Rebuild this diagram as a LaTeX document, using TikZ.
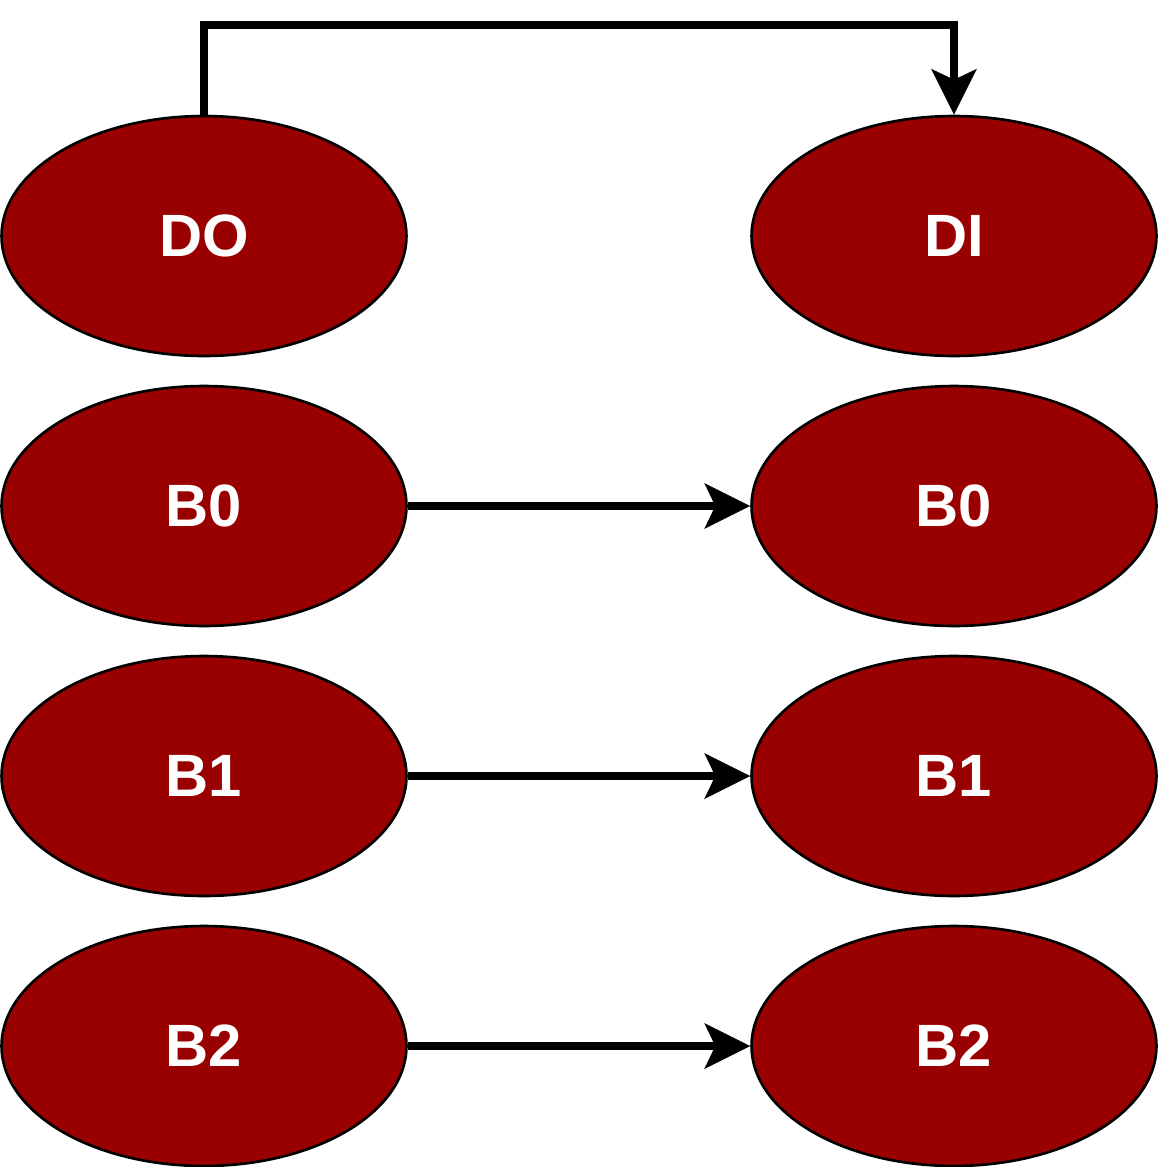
\documentclass[tikz,border=0pt]{standalone}
\usepackage{fontspec}
\setmainfont{Liberation Sans}
\usetikzlibrary{shapes.geometric, arrows.meta}
\definecolor{darkred}{HTML}{990000}
\begin{document}
\begin{tikzpicture}[x=0.02cm, y=-0.02cm,
  state/.style={ellipse, draw=black, line width=1.5pt, fill=darkred, text=white,
    font=\bfseries\fontsize{34}{40}\selectfont, minimum width=8.1cm, minimum height=4.8cm, inner sep=0pt},
  link/.style={line width=4.4pt, -{Stealth[length=0.92cm, width=0.92cm, inset=0.22cm, line width=0pt]}}]
		\useasboundingbox (0, 0) rectangle (1158, 1167);
		%%%%%%%%%%%%%
		\node[state] (do) at (204, 236) {DO};
		\node[state] (di) at (954, 236) {DI};
		\node[state] (lb0) at (204, 506) {B0};
		\node[state] (rb0) at (954, 506) {B0};
		\node[state] (lb1) at (204, 776) {B1};
		\node[state] (rb1) at (954, 776) {B1};
		\node[state] (lb2) at (204, 1046) {B2};
		\node[state] (rb2) at (954, 1046) {B2};
		\coordinate (top) at (579, 25);
		%%%%%%%%%%%%%
		\draw[link] (do.north) |- (top) -| (di.north);
		\draw[link] (lb0) to (rb0);
		\draw[link] (lb1) to (rb1);
		\draw[link] (lb2) to (rb2);
		%%%%%%%%%%%%%
\end{tikzpicture}
\end{document}
